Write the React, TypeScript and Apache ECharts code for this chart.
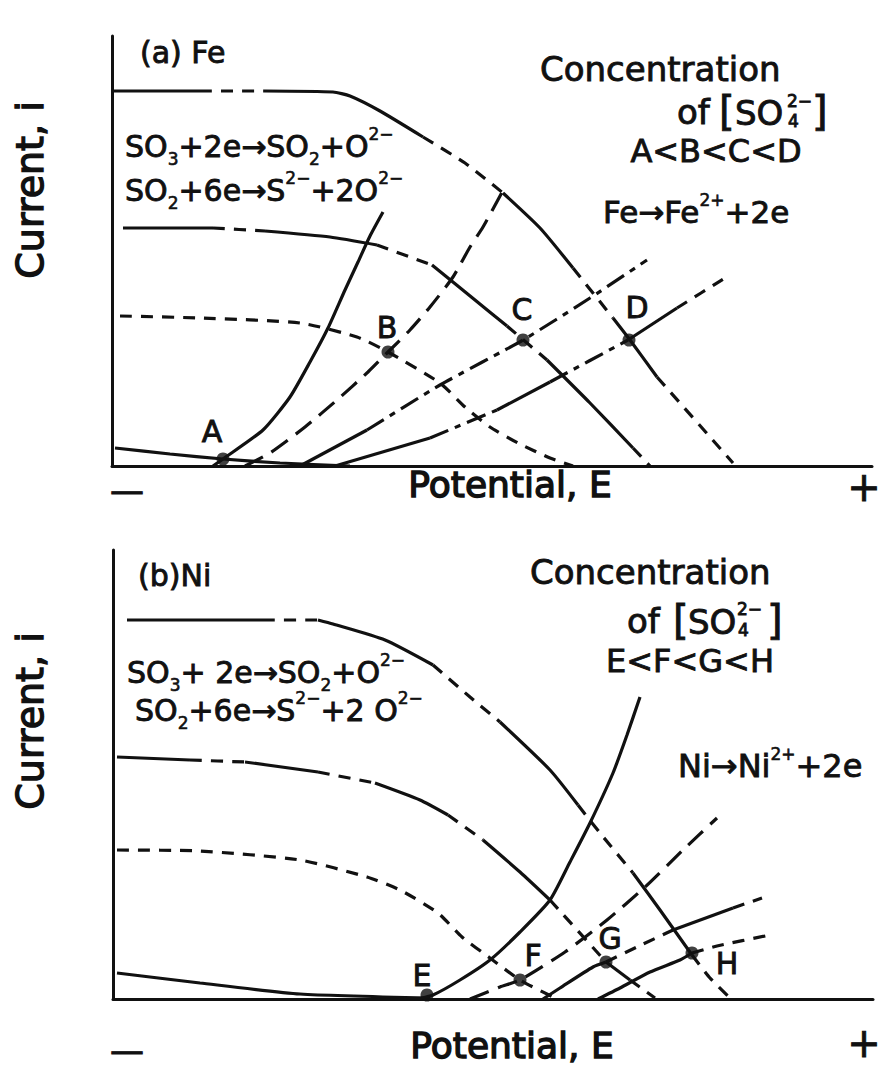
import React, { useEffect, useRef } from "react";
import * as echarts from "echarts";

// ---------- Panel (a) Fe : [potential (arb.), current (arb.)] ----------
const feCathD = [[1,375],[88,375],[153,375],[221,374],[238,370],[268,355],[311,329],[353,303],[391,273],[428,238],[461,198],[501,148],[518,126],[545,89],[621,3]];
const feCathC = [[11,238],[101,238],[153,235],[218,229],[265,221],[320,201],[363,166],[395,140],[435,106],[478,63],[521,18],[538,0]];
const feCathB = [[8,150],[88,148],[188,143],[245,129],[276,114],[328,83],[353,59],[378,39],[406,23],[438,8],[461,0]];
const feCathA = [[3,18],[58,12],[111,7],[168,3],[238,0]];
const feAnA = [[101,0],[111,7],[151,36],[178,69],[198,104],[216,138],[233,176],[246,204],[258,230],[271,254]];
const feAnB = [[133,0],[158,13],[193,39],[225,66],[256,94],[276,114],[298,136],[318,159],[341,189],[358,219],[371,239],[394,281]];
const feAnC = [[188,0],[255,36],[328,81],[411,126],[478,168],[535,206]];
const feAnD = [[223,0],[318,28],[385,56],[438,84],[516,126],[565,158],[613,188]];
const fePoints = [[111,7],[276,114],[411,126],[517,126]];

// ---------- Panel (b) Ni ----------
const niCathH = [[14,379],[150,379],[205,379],[220,375],[272,359],[320,334],[357,302],[387,277],[437,229],[465,194],[487,166],[520,126],[547,89],[579,44],[597,21],[617,1]];
const niCathG = [[4,242],[77,239],[132,237],[205,227],[262,216],[307,199],[335,184],[370,159],[407,127],[437,99],[493,37],[517,19],[542,1]];
const niCathF = [[4,149],[87,148],[187,139],[254,122],[287,109],[325,86],[349,62],[377,41],[407,19],[442,1]];
const niCathE = [[4,26],[87,16],[187,5],[317,1]];
const niAnE = [[305,0],[320,4],[347,19],[377,39],[407,67],[437,99],[457,137],[477,176],[500,226],[514,264],[527,302]];
const niAnF = [[357,0],[387,12],[407,19],[452,47],[494,79],[532,112],[570,149],[604,181]];
const niAnG = [[430,0],[447,11],[480,32],[493,37],[524,52],[560,69],[620,91],[649,101]];
const niAnH = [[485,0],[507,11],[537,27],[567,39],[579,46],[604,53],[657,64]];
const niPoints = [[314,4],[407,19],[493,37],[579,46]];

const FONT = "DejaVu Sans";
const INK = "#111";

const dashTypes: Record<string, any> = {
  s: "solid",
  d: [12, 9],
  l: [20, 10],
  c: [20, 7, 6, 7],
};

function buildCurve(points: number[][], pattern: string, axis: number) {
  const out: any[] = [];
  const n = points.length;
  let start = 0;
  const styleAt = (i: number) => (pattern.length === 1 ? pattern : pattern[i] || "s");
  for (let i = 0; i < n - 1; i++) {
    const cur = styleAt(i);
    const next = i + 1 < n - 1 ? styleAt(i + 1) : null;
    if (next !== cur) {
      out.push({
        type: "line",
        xAxisIndex: axis,
        yAxisIndex: axis,
        data: points.slice(start, i + 2),
        showSymbol: false,
        symbol: "none",
        smooth: 0.2,
        silent: true,
        lineStyle: { color: INK, width: 3.2, type: dashTypes[cur] },
      });
      start = i + 1;
    }
  }
  return out;
}

function txt(x: number, y: number, text: string, size: number, extra: any = {}) {
  return {
    type: "text",
    x,
    y,
    silent: true,
    style: {
      text,
      fontSize: size,
      fontFamily: FONT,
      fill: INK,
      stroke: INK,
      lineWidth: 0.9,
      align: "left",
      verticalAlign: "middle",
      textAlign: "left",
      textVerticalAlign: "middle",
      ...extra,
    },
  };
}

const center = { align: "center", textAlign: "center" };
const subStyle = { fontSize: 17, lineHeight: 17, verticalAlign: "bottom", fontFamily: FONT, fill: INK, stroke: INK, lineWidth: 0.6 };
const supStyle = { fontSize: 17, lineHeight: 17, verticalAlign: "top", fontFamily: FONT, fill: INK, stroke: INK, lineWidth: 0.6 };

function chem(x: number, y: number, text: string, size: number) {
  return txt(x, y, text, size, {
    lineHeight: 42,
    rich: { sub: subStyle, sup: supStyle },
  });
}

export default function App() {
  const ref = useRef<HTMLDivElement>(null);
  useEffect(() => {
    document.body.style.margin = "0";
    const chart = echarts.init(ref.current!, null, { renderer: "svg" });

    const axisCommon = {
      type: "value",
      axisTick: { show: false },
      axisLabel: { show: false },
      splitLine: { show: false },
      axisLine: { show: true, onZero: false, lineStyle: { color: INK, width: 3 } },
    };

    const series: any[] = [
      ...buildCurve(feCathD, "sdssssddssdssd", 0),
      ...buildCurve(feCathC, "sdssdssdssd", 0),
      ...buildCurve(feCathB, "d", 0),
      ...buildCurve(feCathA, "s", 0),
      ...buildCurve(feAnA, "s", 0),
      ...buildCurve(feAnB, "l", 0),
      ...buildCurve(feAnC, "scccc", 0),
      ...buildCurve(feAnD, "scscsd", 0),
      ...buildCurve(niCathH, "sdsssddssddssdd", 1),
      ...buildCurve(niCathG, "sdsdssdssdsd", 1),
      ...buildCurve(niCathF, "d", 1),
      ...buildCurve(niCathE, "s", 1),
      ...buildCurve(niAnE, "s", 1),
      ...buildCurve(niAnF, "l", 1),
      ...buildCurve(niAnG, "sssddsd", 1),
      ...buildCurve(niAnH, "ssssdd", 1),
      { type: "scatter", xAxisIndex: 0, yAxisIndex: 0, data: fePoints, symbolSize: 13, itemStyle: { color: INK }, silent: true },
      { type: "scatter", xAxisIndex: 1, yAxisIndex: 1, data: niPoints, symbolSize: 13, itemStyle: { color: INK }, silent: true },
    ];

    const graphics: any[] = [
      // panel a
      txt(140, 52, "(a) Fe", 30),
      txt(540, 69, "Concentration", 34),
      txt(677, 112, "of", 34),
      txt(719, 111, "[", 40),
      txt(735, 113, "SO", 34),
      txt(787, 101, "2−", 17),
      txt(788, 121, "4", 17),
      txt(812, 111, "]", 40),
      txt(716, 151, "A<B<C<D", 32, center),
      chem(603, 212, "Fe→Fe{sup|2+}+2e", 31),
      chem(125, 146, "SO{sub|3}+2e→SO{sub|2}+O{sup|2−}", 30),
      chem(125, 190, "SO{sub|2}+6e→S{sup|2−}+2O{sup|2−}", 30),
      txt(212, 431, "A", 30, center),
      txt(387, 327, "B", 30, center),
      txt(522, 309, "C", 30, center),
      txt(637, 307, "D", 30, center),
      txt(510, 484, "Potential, E", 36, { ...center, lineWidth: 1.4 }),
      txt(127, 490, "—", 34, center),
      txt(864, 487, "+", 40, center),
      { ...txt(30, 190, "Current, i", 38, { ...center, lineWidth: 1.4 }), rotation: Math.PI / 2 },
      // panel b
      txt(138, 575, "(b)Ni", 30),
      txt(530, 572, "Concentration", 34),
      txt(627, 621, "of", 34),
      txt(673, 620, "[", 40),
      txt(688, 622, "SO", 34),
      txt(737, 609, "2−", 17),
      txt(738, 630, "4", 17),
      txt(767, 620, "]", 40),
      txt(690, 661, "E<F<G<H", 32, center),
      chem(678, 766, "Ni→Ni{sup|2+}+2e", 32),
      chem(127, 672, "SO{sub|3}+ 2e→SO{sub|2}+O{sup|2−}", 30),
      chem(135, 710, "SO{sub|2}+6e→S{sup|2−}+2 O{sup|2−}", 30),
      txt(422, 975, "E", 30, center),
      txt(533, 955, "F", 30, center),
      txt(610, 938, "G", 30, center),
      txt(727, 963, "H", 30, center),
      txt(512, 1045, "Potential, E", 36, { ...center, lineWidth: 1.4 }),
      txt(127, 1050, "—", 34, center),
      txt(864, 1043, "+", 40, center),
      { ...txt(30, 721, "Current, i", 38, { ...center, lineWidth: 1.4 }), rotation: Math.PI / 2 },
    ];

    chart.setOption({
      animation: false,
      backgroundColor: "#fff",
      grid: [
        { left: 112, top: 36, width: 760, height: 430 },
        { left: 113, top: 550, width: 760, height: 449 },
      ],
      xAxis: [
        { ...axisCommon, gridIndex: 0, min: 0, max: 760 },
        { ...axisCommon, gridIndex: 1, min: 0, max: 760 },
      ],
      yAxis: [
        { ...axisCommon, gridIndex: 0, min: 0, max: 430 },
        { ...axisCommon, gridIndex: 1, min: 0, max: 449 },
      ],
      series,
      graphic: { elements: graphics },
    });
    return () => chart.dispose();
  }, []);
  return <div ref={ref} style={{ width: 883, height: 1073 }} />;
}
